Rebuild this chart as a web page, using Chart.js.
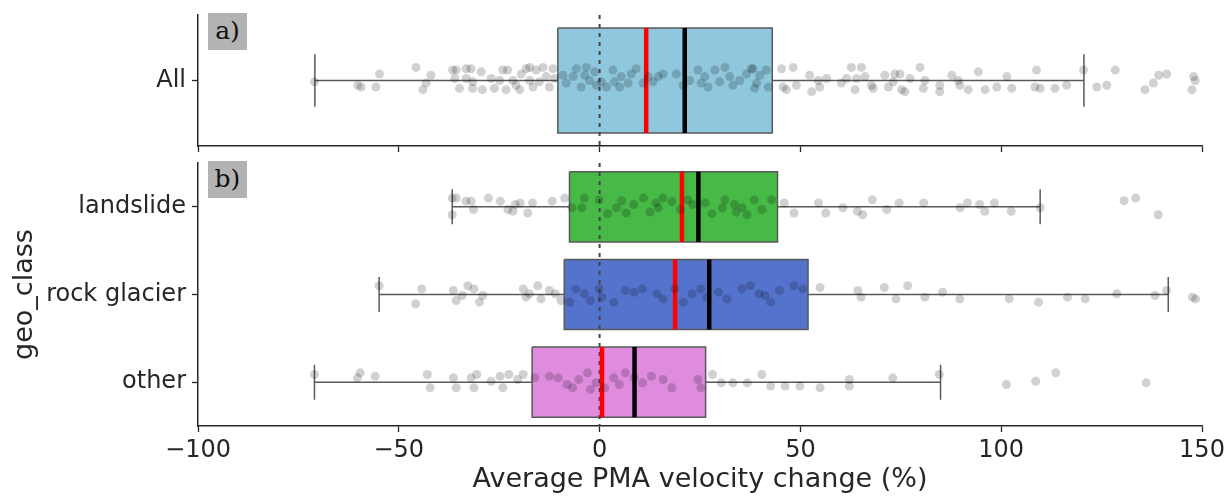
<!DOCTYPE html>
<html>
<head>
<meta charset="utf-8">
<script src="https://cdn.jsdelivr.net/npm/chart.js@4.4.0/dist/chart.umd.min.js"></script>
<style>
html,body{margin:0;padding:0;background:#fff;}
#wrap{position:relative;width:1227px;height:496px;overflow:hidden;background:#fff;}
canvas{position:absolute;left:0;}
#c1{top:0;}
#c2{top:150px;}
.plab{position:absolute;left:208px;width:39px;height:37px;background:#b3b3b3;font-family:'DejaVu Serif',serif;font-size:25px;line-height:36px;text-align:center;color:#111;z-index:5;}
</style>
</head>
<body>
<div id="wrap">
<canvas id="c1" width="1227" height="160"></canvas>
<canvas id="c2" width="1227" height="346"></canvas>
<div class="plab" style="top:13px">a)</div>
<div class="plab" style="top:161px">b)</div>
</div>
<script>
// ---------- data ----------
const xTicks = [-100, -50, 0, 50, 100, 150];
const xTitle = 'Average PMA velocity change (%)';
const yTitle = 'geo_class';

const topCats = ['All'];
const topQ1 = [-10.4];
const topQ3 = [43.0];
const topMedian = [11.6];
const topMean = [21.2];
const topWhiskerLo = [-70.9];
const topWhiskerHi = [120.6];

const botCats = ['landslide', 'rock glacier', 'other'];
const botQ1 = [-7.5, -8.8, -16.8];
const botQ3 = [44.3, 51.9, 26.4];
const botMedian = [20.5, 18.8, 0.6];
const botMean = [24.6, 27.3, 8.7];
const botWhiskerLo = [-36.7, -54.9, -71.0];
const botWhiskerHi = [109.7, 141.6, 84.9];

// strip points: [value, jitter (category units)]
const allStrip = [
[-71.0,0.01],[-60.2,0.036],[-59.4,0.05],[-55.7,0.05],[-54.8,-0.05],[-45.7,-0.10],[-44.0,0.07],[-43.2,0.02],[-42.0,-0.04],
[-36.6,-0.08],[-35.7,-0.08],[-36.1,-0.015],[-34.9,0.06],[-33.2,-0.09],[-32.0,-0.09],[-31.6,0.01],[-31.6,0.06],[-29.5,-0.066],[-29.2,0.07],[-33.2,-0.015],
[-27.0,-0.015],[-26.2,0.06],[-24.9,0],[-24.1,-0.08],[-23.3,0.07],[-22.9,-0.08],[-21.6,0],[-20.8,0.036],[-19.9,0.07],[-19.5,-0.05],
[-18.3,-0.09],[-17.4,-0.10],[-17.4,0],[-16.6,0.05],[-15.8,-0.08],[-15.0,0.01],[-14.1,-0.10],[-13.3,-0.03],[-12.5,0.05],[-11.6,-0.09],[-11.2,-0.015],
[-9.1,-0.04],[-8.3,0.02],[-6.6,-0.03],[-5.8,-0.09],[-4.6,0.05],[-3.7,-0.04],[-3.3,-0.10],[-2.5,0],[-1.2,-0.066],[-0.8,0.036],
[0.4,0.01],[1.7,0.05],[3.3,-0.08],[3.7,0.01],[5.0,0.05],[5.4,-0.03],[7.1,0.02],[7.9,-0.05],[9.1,-0.09],[10.8,0.02],
[12.1,-0.03],[13.3,0.01],[14.6,-0.03],[15.8,-0.05],[19.1,-0.05],[20.8,0.036],[22.4,0],[24.5,-0.08],[25.3,0.02],[26.2,-0.03],
[27.0,0.05],[28.7,-0.08],[29.9,0.01],[31.2,-0.10],[32.4,-0.03],[33.2,0.036],[34.9,0],[36.6,-0.05],[37.8,-0.09],[39.1,0.02],
[38.2,-0.09],[39.9,-0.04],[38.6,0.06],[41.5,-0.08],[42.0,0.05],[45.3,-0.09],[45.7,0.05],[48.2,-0.10],[49.0,0.036],[46.5,0.07],
[52.3,-0.04],[52.8,0.085],[54.4,0],[54.8,0.05],[56.5,-0.015],[60.2,0.02],[61.5,-0.015],[62.7,-0.10],[63.6,0.07],[64.0,-0.015],
[65.2,-0.10],[66.1,-0.03],[67.7,0.036],[68.1,0.06],[71.0,-0.04],[71.9,0.05],[73.1,0.01],[73.5,-0.05],[74.8,-0.05],[75.2,0.07],
[76.0,0.085],[77.3,-0.015],[79.8,-0.10],[80.6,0.06],[81.0,0],[84.7,0.036],[84.7,0.085],[87.7,-0.04],[89.3,0],[89.7,0.036],
[91.8,0.07],[94.3,-0.066],[96.0,0.07],[98.9,0.05],[101.4,-0.03],[102.6,0.06],[108.4,0.05],[108.8,-0.08],[109.7,0.06],[113.4,0.06],
[116.3,0.036],[120.5,-0.08],[123.8,0.05],[126.3,0.036],[128.4,-0.08],[135.8,0.07],[137.9,0.02],[139.2,-0.04],[141.2,-0.05],
[147.5,0.07],[147.9,-0.03],[148.3,0]
];
const landslideStrip = [
[-36.7,-0.10],[-36.7,0.09],[-35.7,-0.10],[-33.3,-0.065],[-32.0,-0.065],[-31.4,0.03],[-27.7,-0.10],[-24.7,-0.065],[-22.8,0.03],[-21.6,0.05],
[-21.0,-0.027],[-19.8,-0.045],[-17.9,0.07],[-16.7,-0.045],[-11.8,-0.065],[-8.7,-0.10],[-6.9,0.01],[-4.4,0.01],[-3.8,-0.10],[-0.1,-0.08],
[2.0,0.08],[4.2,0.01],[5.5,-0.07],[6.6,0.07],[8.5,-0.027],[10.9,-0.10],[12.5,0.06],[14.0,-0.045],[14.6,0.01],[15.8,-0.10],
[18.0,-0.06],[20.1,0.03],[22.0,-0.08],[23.2,-0.027],[26.3,-0.045],[28.0,0.08],[30.6,0.01],[31.2,-0.08],[33.6,-0.027],[34.0,0.06],
[35.5,0.01],[36.7,0.09],[38.5,-0.08],[40.4,0.03],[42.8,-0.08],[46.0,-0.045],[48.4,0.07],[54.5,-0.045],[56.3,0.07],[60.6,0.01],
[64.2,0.05],[65.5,0.09],[67.9,-0.08],[71.5,0.03],[74.6,-0.045],[80.7,-0.045],[89.8,0.01],[91.6,-0.045],[94.6,-0.027],[95.9,0.05],
[98.3,-0.045],[102.5,0.05],[109.7,0.01],[130.6,-0.07],[133.5,-0.10],[139.1,0.09]
];
const rockGlacierStrip = [
[-54.9,-0.10],[-45.8,0.106],[-44.3,-0.064],[-36.4,-0.045],[-35.7,0.068],[-34.2,0.011],[-32.8,-0.10],[-31.3,-0.064],[-29.9,0.087],[-29.1,0.011],
[-19.0,-0.064],[-18.3,0.03],[-17.5,-0.008],[-15.4,-0.10],[-14.6,0.05],[-12.5,-0.045],[-11.0,-0.008],[-9.6,0.068],[-7.4,0.087],[-5.9,-0.064],
[-3.8,-0.008],[-2.3,0.068],[-0.1,-0.064],[0.6,0.03],[3.5,0.087],[6.4,-0.045],[8.6,-0.027],[10.7,-0.064],[14.3,-0.008],[15.8,0.05],
[18.7,-0.064],[20.9,0.087],[23.0,-0.008],[25.2,-0.064],[26.7,0.03],[29.6,-0.027],[31.7,0.05],[35.4,-0.064],[37.5,-0.10],[39.7,-0.008],
[41.2,0.011],[42.6,0.087],[44.8,-0.045],[48.4,-0.10],[50.6,-0.064],[54.9,-0.08],[64.3,-0.045],[65.1,0.03],[70.9,-0.08],[73.8,0.05],
[76.7,-0.10],[81.0,0.03],[85.4,-0.027],[89.7,0.05],[102.0,0.05],[109.3,0.087],[116.5,0.03],[120.9,0.05],[128.8,-0.008],[138.3,0.011],
[141.2,-0.045],[147.6,0.03],[148.4,0.05]
];
const otherStrip = [
[-71.0,-0.087],[-60.3,-0.049],[-59.6,-0.106],[-55.9,-0.068],[-42.9,-0.087],[-42.2,0.064],[-36.4,-0.049],[-35.7,0.064],[-32.0,-0.049],[-31.3,0.064],
[-30.6,-0.087],[-27.0,-0.011],[-24.8,-0.068],[-24.1,0.064],[-22.6,-0.087],[-20.4,-0.03],[-19.0,-0.087],[-16.1,-0.049],[-12.5,-0.068],[-10.3,-0.049],
[-8.1,0.027],[-6.7,0.064],[-5.2,-0.03],[-3.0,-0.106],[-2.3,0.083],[-0.9,0.008],[1.3,0.064],[3.5,-0.049],[4.9,0.027],[6.4,-0.106],
[8.6,-0.049],[10.7,0.008],[12.9,-0.068],[15.8,-0.03],[18.0,0.064],[24.5,-0.03],[25.2,0.064],[28.1,-0.087],[30.3,0.008],[33.2,0.008],
[36.8,0.008],[40.4,-0.087],[42.6,0.045],[46.2,0.045],[49.9,0.045],[54.9,0.064],[62.2,0.045],[62.2,-0.03],[73.0,-0.049],[84.6,-0.087],
[101.3,0.027],[108.6,-0.011],[113.6,-0.106],[136.1,0.008]
];

const topColors = ['#8fc7de'];
const botColors = ['#46b946', '#5473cd', '#df8cdf'];

// ---------- chart ----------
Chart.defaults.font.family = "'DejaVu Sans', sans-serif";
const BOX_HALF = 0.4, CAP_HALF = 0.2;
const EDGE = '#595959';
const PT = 'rgba(0,0,0,0.18)';

function panelDatasets(cats, q1, q3, med, mean, wlo, whi, colors, strips, yMin, yMax) {
  const ds = [];
  cats.forEach((c, i) => {
    ds.push({
      label: c + ' box',
      data: [{x:q1[i],y:i-BOX_HALF},{x:q3[i],y:i-BOX_HALF},{x:q3[i],y:i+BOX_HALF},{x:q1[i],y:i+BOX_HALF},{x:q1[i],y:i-BOX_HALF}],
      showLine: true, fill: 'shape', backgroundColor: colors[i], borderColor: EDGE, borderWidth: 1.5,
      pointRadius: 0, order: 6
    });
    ds.push({
      label: c + ' whiskers',
      data: [{x:wlo[i],y:i},{x:q1[i],y:i},{x:null,y:null},{x:q3[i],y:i},{x:whi[i],y:i},{x:null,y:null},
             {x:wlo[i],y:i-CAP_HALF},{x:wlo[i],y:i+CAP_HALF},{x:null,y:null},{x:whi[i],y:i-CAP_HALF},{x:whi[i],y:i+CAP_HALF}],
      showLine: true, spanGaps: false, borderColor: EDGE, borderWidth: 1.5, pointRadius: 0, order: 5
    });
    ds.push({
      label: c + ' median',
      data: [{x:med[i],y:i-BOX_HALF},{x:med[i],y:i+BOX_HALF}],
      showLine: true, borderColor: '#ff0000', borderWidth: 4.5, pointRadius: 0, order: 3
    });
    ds.push({
      label: c + ' mean',
      data: [{x:mean[i],y:i-BOX_HALF},{x:mean[i],y:i+BOX_HALF}],
      showLine: true, borderColor: '#000000', borderWidth: 4.5, pointRadius: 0, order: 2
    });
    ds.push({
      label: c + ' points',
      data: strips[i].map(p => ({x:p[0], y:i+p[1]})),
      showLine: false, pointRadius: 4.5, pointBackgroundColor: PT, pointBorderWidth: 0,
      backgroundColor: PT, borderWidth: 0, order: 1
    });
  });
  ds.push({
    label: 'zero',
    data: [{x:0,y:yMin},{x:0,y:yMax}],
    showLine: true, borderColor: '#444444', borderWidth: 2, borderDash: [4,5], pointRadius: 0, order: 4
  });
  return ds;
}

function noPad(s) { s.paddingTop = 0; s.paddingBottom = 0; s.paddingLeft = 0; s.paddingRight = 0; }

const axisColor = '#262626';
function xScale(showLabels, height) {
  return {
    type: 'linear', min: -100, max: 150,
    afterBuildTicks: s => { s.ticks = xTicks.map(v => ({value: v})); },
    ticks: {
      display: showLabels, color: axisColor, padding: 4,
      font: {size: 24},
      callback: v => String(v).replace('-', '\u2212'),
      maxRotation: 0, autoSkip: false
    },
    grid: {display: true, drawOnChartArea: false, drawTicks: true, tickLength: 6, tickColor: axisColor, tickWidth: 1.3},
    border: {display: true, color: axisColor, width: 1.5},
    title: showLabels ? {display: true, text: xTitle, color: axisColor, font: {size: 27}, padding: {top: 0, bottom: 0}} : {display: false},
    afterFit: s => { s.height = height; noPad(s); }
  };
}
function yScale(cats, showTitle) {
  return {
    type: 'linear', min: -0.5, max: cats.length - 0.5, reverse: true,
    afterBuildTicks: s => { s.ticks = cats.map((c, i) => ({value: i})); },
    ticks: {color: axisColor, padding: 6, font: {size: 24}, callback: v => cats[v], autoSkip: false},
    grid: {display: true, drawOnChartArea: false, drawTicks: true, tickLength: 6, tickColor: axisColor, tickWidth: 1.3},
    border: {display: true, color: axisColor, width: 1.5},
    title: showTitle ? {display: true, text: yTitle, color: axisColor, font: {size: 27}, padding: {top: 9, bottom: 0}} : {display: false},
    afterFit: s => { s.width = 198; noPad(s); }
  };
}

new Chart(document.getElementById('c1'), {
  type: 'scatter',
  data: {datasets: panelDatasets(topCats, topQ1, topQ3, topMedian, topMean, topWhiskerLo, topWhiskerHi, topColors, [allStrip], -0.5, 0.5)},
  options: {
    responsive: false, animation: false, events: [],
    layout: {autoPadding: false, padding: {top: 15, right: 25, left: 0, bottom: 0}},
    plugins: {legend: {display: false}, tooltip: {enabled: false}},
    scales: {x: xScale(false, 14), y: yScale(topCats, false)}
  }
});

new Chart(document.getElementById('c2'), {
  type: 'scatter',
  data: {datasets: panelDatasets(botCats, botQ1, botQ3, botMedian, botMean, botWhiskerLo, botWhiskerHi, botColors,
        [landslideStrip, rockGlacierStrip, otherStrip], -0.5, 2.5)},
  options: {
    responsive: false, animation: false, events: [],
    layout: {autoPadding: false, padding: {top: 13, right: 25, left: 0, bottom: 0}},
    plugins: {legend: {display: false}, tooltip: {enabled: false}},
    scales: {x: xScale(true, 70), y: yScale(botCats, true)}
  }
});
</script>
</body>
</html>
